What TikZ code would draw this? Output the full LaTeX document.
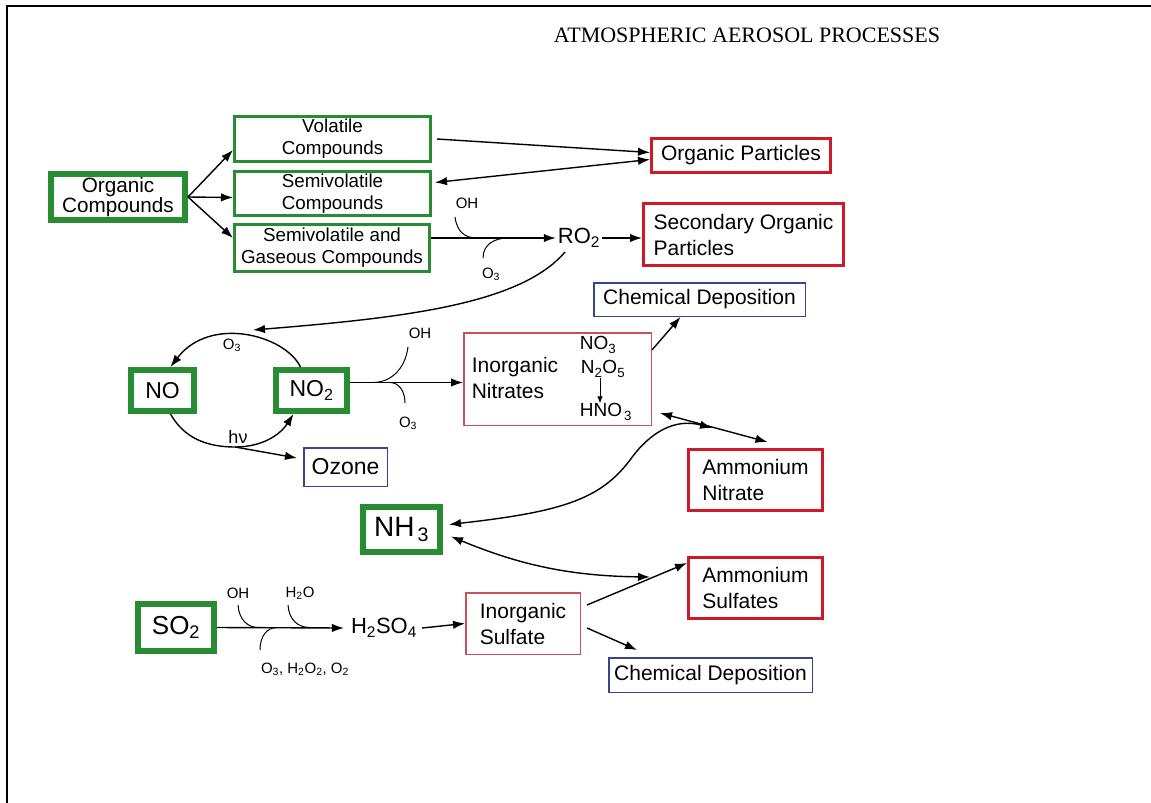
\documentclass[tikz,border=0pt]{standalone}
\usepackage{fontspec}
\setmainfont{Liberation Sans}
\newfontfamily\titlefont{Liberation Serif}
\usetikzlibrary{arrows.meta, positioning}
\definecolor{grn}{RGB}{40,140,50}
\definecolor{redbox}{RGB}{205,25,40}
\definecolor{pinkbox}{RGB}{200,80,90}
\definecolor{bluebox}{RGB}{55,70,140}
\newcommand{\fsz}[2]{\fontsize{#1}{#2}\selectfont}

\tikzset{
  gbox/.style={draw=grn, line width=3pt, inner sep=0pt, align=center, font=\fsz{18.8}{22}},
  gthick/.style={draw=grn, line width=6pt, inner sep=0pt, align=center},
  rbox/.style={draw=redbox, line width=3pt, inner sep=0pt, align=left, font=\fsz{21}{26}},
  pbox/.style={draw=pinkbox, line width=1.5pt, inner sep=0pt, align=left, font=\fsz{21}{26}},
  bbox/.style={draw=bluebox, line width=1.5pt, inner sep=0pt, font=\fsz{21}{26}},
  lab/.style={inner sep=0pt, font=\fsz{15}{18}},
  chem/.style={inner sep=2pt, font=\fsz{22}{26}},
  arr/.style={->, line width=1.4pt},
  cat/.style={line width=1pt}
}

\begin{document}
\begin{tikzpicture}[x=1pt, y=-1pt, >={Latex[length=12pt,width=8.5pt]}]
  \useasboundingbox (0,0) rectangle (1151,803);
  \fill[white] (0,0) rectangle (1151,803);
  \draw[line width=2.5pt] (7,803) -- (7,6) -- (1151,6);

  \node[font=\titlefont\fsz{22}{26}] (title) at (747,35) {ATMOSPHERIC AEROSOL PROCESSES};

  % organic compounds
  \node[gthick, minimum width=134, minimum height=46, font=\fsz{20.7}{20}] (org) at (118,197) {Organic\\Compounds};
  \node[gbox, minimum width=196, minimum height=45] (vol) at (332.5,139) {Volatile\\Compounds};
  \node[gbox, minimum width=196, minimum height=44] (semi) at (332.5,193.5) {Semivolatile\\Compounds};
  \node[gbox, minimum width=195, minimum height=47] (semigas) at (332,248) {Semivolatile and\\Gaseous Compounds};
  \node[rbox, minimum width=179, minimum height=34] (orgp) at (741,155.5) {Organic Particles};
  \node[rbox, minimum width=200, minimum height=62] (secp) at (743.5,234.5) {Secondary Organic\\Particles};
  \node[chem] (ro2) at (579,238) {RO\textsubscript{2}};

  \draw[arr] (org.east) -- ([yshift=-11pt]vol.west);
  \draw[arr] (org.east) -- ([yshift=-4pt]semi.west);
  \draw[arr] (org.east) -- ([yshift=10pt]semigas.west);
  \draw[arr] ([xshift=5pt]vol.east) -- ([yshift=3pt]orgp.west);
  \draw[arr, <->] ([xshift=3pt, yshift=11pt]semi.east) -- ([yshift=-4pt]orgp.west);
  \draw[arr] ([yshift=10pt]semigas.east) -- (ro2.west);
  \draw[arr] (ro2.east) -- (ro2.east -| secp.west);

  \node[lab] (oh1) at (467,203) {OH};
  \node[lab] (o3a) at (491,274) {O\textsubscript{3}};
  \coordinate (oh1s) at (455,217);
  \coordinate (oh1e) at (477,238);
  \coordinate (o3as) at (483,258);
  \coordinate (o3ae) at (508,238);
  \draw[cat] (oh1s) .. controls (457,232) and (465,238) .. (oh1e);
  \draw[cat] (o3as) .. controls (483,244) and (495,238) .. (o3ae);

  % nitrogen oxides
  \node[gthick, minimum width=63, minimum height=41, font=\fsz{23}{26}] (no) at (162.5,390.5) {NO};
  \node[gthick, minimum width=71, minimum height=41, font=\fsz{23}{26}] (no2) at (311.5,390.5) {NO\textsubscript{2}};
  \node[bbox, minimum width=83.5, minimum height=38.5, font=\fsz{23}{26}] (ozone) at (345.5,467) {Ozone};
  \node[bbox, minimum width=211.5, minimum height=33.5] (chem1) at (699.5,299.5) {Chemical Deposition};
  \node[pbox, minimum width=187.5, minimum height=92.5] (nitr) at (557.5,379) {};
  \node[inner sep=0pt, align=left, font=\fsz{21}{26}] (nitrtxt) at (515,378) {Inorganic\\Nitrates};
  \node[inner sep=0pt, font=\fsz{19}{22}] (no3) at (598,345) {NO\textsubscript{3}};
  \node[inner sep=0pt, font=\fsz{19}{22}] (n2o5) at (603,369) {N\textsubscript{2}O\textsubscript{5}};
  \node[inner sep=0pt, font=\fsz{19}{22}] (hno3) at (606,412) {HNO\kern2pt\textsubscript{3}};

  \coordinate (ro2s) at (565,252);
  \coordinate (loopin) at (253,330);
  \draw[arr] (ro2s) .. controls (520,305) and (400,318) .. (loopin);
  \draw[arr] ([xshift=-11pt]no2.north) .. controls (285,335) and (210,315) .. ([xshift=8pt]no.north);
  \node[lab] (o3b) at (232,345) {O\textsubscript{3}};

  \coordinate (hvj) at (235,447);
  \draw[arr] ([xshift=8pt]no.south) .. controls (185,440) and (210,447) .. (hvj) .. controls (262,447) and (280,435) .. ([xshift=-18pt]no2.south);
  \draw[arr] (hvj) -- ([xshift=-6pt, yshift=9pt]ozone.west);
  \node[lab, font=\fsz{18}{20}] (hv) at (238,437) {hν};

  \draw[arr] ([yshift=8pt]no2.east) -- ([yshift=8pt]no2.east -| nitr.west);
  \node[lab] (oh2) at (420,333) {OH};
  \node[lab] (o3c) at (408,423) {O\textsubscript{3}};
  \coordinate (oh2s) at (408,347);
  \coordinate (oh2e) at (373,382.5);
  \coordinate (o3cs) at (405,403);
  \coordinate (o3ce) at (390,382.5);
  \draw[cat] (oh2s) .. controls (405,370) and (390,382.5) .. (oh2e);
  \draw[cat] (o3cs) .. controls (405,390) and (398,382.5) .. (o3ce);

  \draw[arr] ([yshift=-18pt]nitr.north east) -- ([xshift=-19pt]chem1.south);
  \draw[->, line width=1pt, >={Latex[length=7pt,width=5.5pt]}] ([xshift=-3pt]n2o5.south) -- ([xshift=-6pt]hno3.north);

  % ammonium
  \node[rbox, minimum width=134, minimum height=61] (amn) at (755.5,480) {Ammonium\\Nitrate};
  \node[rbox, minimum width=134, minimum height=61] (ams) at (755.5,588) {Ammonium\\Sulfates};
  \node[gthick, minimum width=77, minimum height=45, font=\fsz{28}{30}] (nh3) at (401.5,529.5) {NH\kern3pt\textsubscript{3}};

  \coordinate (hn) at (660,413);
  \draw[arr, <->] (hn) -- ([xshift=12pt, yshift=6pt]amn.north);
  \coordinate (nitin) at (712,428);
  \draw[arr, <->] ([xshift=6pt, yshift=5pt]nh3.east) .. controls (560,512) and (600,500) .. (630,460) .. controls (650,432) and (675,418) .. (nitin);
  \coordinate (amsin) at (650,577);
  \draw[arr, <->] ([xshift=8pt, yshift=-7pt]nh3.east) .. controls (520,565) and (570,576) .. (amsin);

  % sulfur
  \node[gthick, minimum width=76, minimum height=47, font=\fsz{26}{30}] (so2) at (176,627.5) {SO\textsubscript{2}};
  \node[chem] (h2so4) at (384,628) {H\textsubscript{2}SO\textsubscript{4}};
  \node[pbox, minimum width=114.5, minimum height=61.5] (sulf) at (523,623.5) {Inorganic\\Sulfate};
  \node[bbox, minimum width=203.5, minimum height=34.5] (chem2) at (710.5,675) {Chemical Deposition};

  \draw[arr] (so2.east) -- ([xshift=-5pt]h2so4.west);
  \draw[arr] ([xshift=3pt]h2so4.east) -- (sulf.west);
  \node[lab] (oh3) at (238,593) {OH};
  \node[lab] (h2o) at (300,593) {H\textsubscript{2}O};
  \node[lab] (ox) at (305,669) {O\textsubscript{3}, H\textsubscript{2}O\textsubscript{2}, O\textsubscript{2}};
  \coordinate (oh3s) at (238,605);
  \coordinate (oh3e) at (258,627.5);
  \coordinate (oxs) at (260,650);
  \coordinate (oxe) at (277,627.5);
  \coordinate (h2os) at (288,605);
  \coordinate (h2oe) at (310,627.5);
  \draw[cat] (oh3s) .. controls (239,620) and (248,627.5) .. (oh3e);
  \draw[cat] (oxs) .. controls (260,636) and (267,627.5) .. (oxe);
  \draw[cat] (h2os) .. controls (289,620) and (298,627.5) .. (h2oe);

  \draw[arr] ([xshift=6pt, yshift=-13pt]sulf.north east) -- ([yshift=-7pt]ams.north west);
  \draw[arr] ([xshift=6pt, yshift=-4.5pt]sulf.east) -- ([xshift=-73.5pt, yshift=7pt]chem2.north);
\end{tikzpicture}
\end{document}
